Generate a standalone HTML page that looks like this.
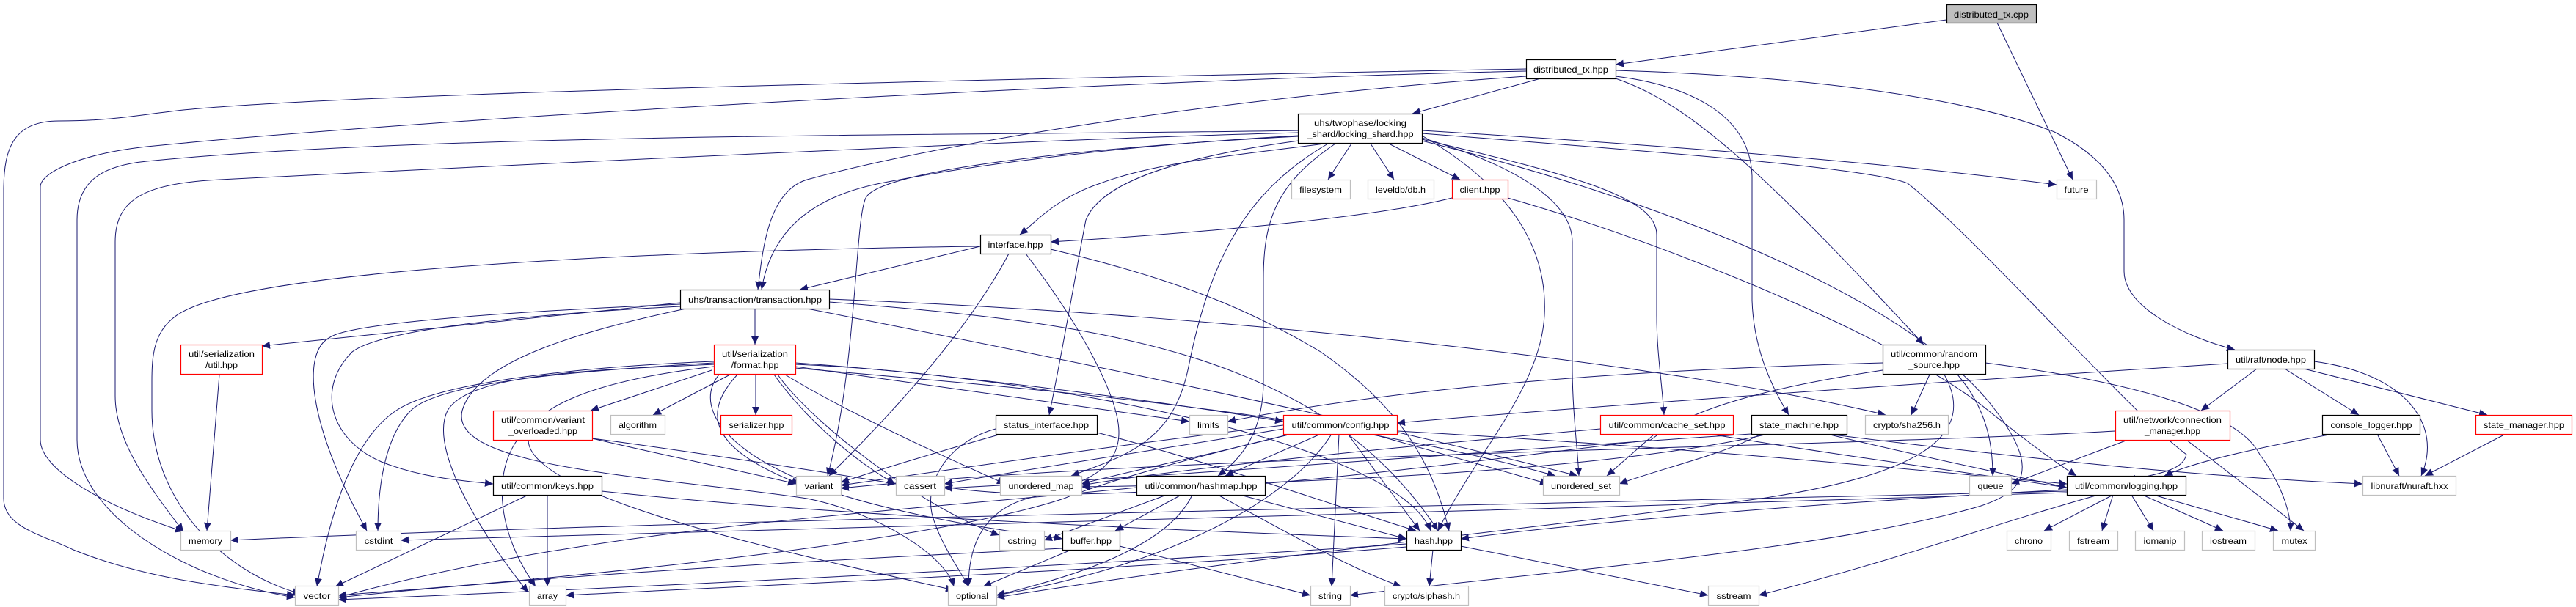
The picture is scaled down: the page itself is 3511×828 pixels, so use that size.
<!DOCTYPE html>
<html><head><meta charset="utf-8"><style>
html,body{margin:0;padding:0;background:#fff;}
svg{display:block;}
text{font-family:"Liberation Sans",sans-serif;font-size:12px;fill:#000;}
</style></head><body>
<svg width="3511" height="828" viewBox="0 0 3511 828" xmlns="http://www.w3.org/2000/svg">
<defs><marker id="a" markerUnits="userSpaceOnUse" markerWidth="12" markerHeight="10" refX="11" refY="5" orient="auto"><path d="M0,0 L11,5 L0,10 Z" fill="#191970"/></marker></defs>
<g fill="none" stroke="#191970" stroke-width="1" marker-end="url(#a)">
<!-- distributed_tx.cpp -->
<path d="M2653,27 L2202,88"/>
<path d="M2722,31 L2825,245"/>
<!-- distributed_tx.hpp -->
<path d="M2100,107 L1925,155"/>
<path d="M2080,94 C1500,105 500,125 250,150 C180,158 150,165 80,165 C20,165 5,200 5,260 L5,680 C5,720 60,730 100,750 C200,790 300,800 402,812"/>
<path d="M2080,97 C1500,110 600,160 200,200 C110,210 55,235 55,255 L55,600 C55,640 140,690 250,725"/>
<path d="M2080,104 C1700,130 1300,190 1100,245 C1050,260 1040,330 1033,395"/>
<path d="M2202,107 C2300,140 2400,230 2622,470"/>
<path d="M2202,96 C2500,105 2700,140 2800,180 C2860,210 2895,250 2895,300 L2895,370 C2895,420 2980,460 3046,477"/>
<path d="M2202,104 C2290,115 2385,150 2388,240 L2388,410 C2390,470 2410,520 2438,566"/>
<!-- locking_shard -->
<path d="M1842,196 L1810,245"/>
<path d="M1868,196 L1900,245"/>
<path d="M1893,196 L1990,245"/>
<path d="M1805,196 C1700,210 1580,220 1500,250 C1440,270 1415,300 1390,320"/>
<path d="M1770,185 C1500,200 1300,230 1200,250 C1100,270 1050,320 1038,395"/>
<path d="M1770,192 C1600,215 1500,250 1480,300 C1470,350 1450,470 1430,566"/>
<path d="M1770,178 C1400,185 600,180 200,220 C150,225 105,240 105,300 L105,600 C105,700 250,790 402,815"/>
<path d="M1770,181 C1400,190 600,230 300,245 C200,250 157,270 157,330 L157,540 C157,600 200,660 250,725"/>
<path d="M1770,186 C1500,200 1200,230 1180,270 C1165,300 1168,500 1128,649"/>
<path d="M1810,196 C1700,260 1650,350 1620,500 C1600,600 1540,620 1460,649"/>
<path d="M1820,196 C1740,250 1722,300 1722,380 L1722,520 C1722,580 1700,620 1660,649"/>
<path d="M1938,185 C2050,250 2110,330 2105,430 C2100,530 2010,620 1960,724"/>
<path d="M1938,188 C2080,230 2143,280 2143,330 L2143,500 C2143,560 2150,610 2152,649"/>
<path d="M1938,190 C2150,240 2258,270 2258,320 L2258,430 C2258,480 2265,520 2268,566"/>
<path d="M1938,178 C2300,200 2600,225 2803,252"/>
<path d="M1938,182 C2300,210 2550,230 2600,250 C2700,330 2900,560 2980,620 C2975,640 2950,645 2900,655"/>
<path d="M1938,192 C2250,270 2600,400 2720,560 C2780,640 2760,670 2700,690 C2500,750 2100,780 1840,812"/>
<!-- client -->
<path d="M1979,270 C1860,300 1600,320 1432,330"/>
<path d="M2055,270 C2300,340 2600,470 2710,560 C2760,600 2800,630 2830,649"/>
<!-- interface -->
<path d="M1336,336 L1090,395"/>
<path d="M1336,336 C1000,340 400,360 260,420 C210,440 207,480 207,520 L207,560 C207,680 300,780 410,810"/>
<path d="M1375,346 C1320,450 1220,560 1130,649"/>
<path d="M1398,346 C1470,440 1525,540 1525,590 C1525,640 1480,660 1400,680 C1330,700 1320,760 1320,800"/>
<path d="M1432,340 C1600,380 1700,420 1800,480 C1900,550 1950,620 1975,724"/>
<!-- transaction -->
<path d="M1029,421 L1029,470"/>
<path d="M927,413 L357,472"/>
<path d="M927,415 C700,425 480,440 450,460 C410,480 420,580 500,724"/>
<path d="M927,418 C700,430 520,450 480,480 C430,530 450,600 520,630 C570,650 620,655 672,660"/>
<path d="M935,421 C800,450 650,490 630,560 C610,640 900,650 1100,680 C1200,700 1290,760 1300,800"/>
<path d="M1100,421 C1400,480 1800,560 2150,649"/>
<path d="M1130,412 C1500,440 1800,480 1960,724"/>
<path d="M1130,408 C1700,430 2300,500 2570,566"/>
<!-- format -->
<path d="M970,505 L805,560"/>
<path d="M995,511 L890,566"/>
<path d="M1030,511 L1030,566"/>
<path d="M1005,511 C960,560 960,610 1090,660"/>
<path d="M973,493 C800,500 600,520 540,560 C480,600 450,700 432,800"/>
<path d="M973,495 C800,505 600,520 560,560 C520,600 515,680 515,724"/>
<path d="M973,497 C800,505 640,510 610,560 C580,620 680,760 720,808"/>
<path d="M1055,511 C1090,560 1150,620 1220,660"/>
<path d="M1070,511 C1150,560 1280,620 1370,660"/>
<path d="M1084,500 L1621,575"/>
<path d="M1084,495 C1300,510 1600,550 1749,575"/>
<path d="M1084,497 C1400,510 1900,600 1950,724"/>
<path d="M1084,502 C1400,530 1800,560 2120,649"/>
<path d="M973,500 C800,520 720,560 720,600 C720,680 1100,760 1300,805"/>
<path d="M1060,511 C1100,570 1250,690 1362,730"/>
<path d="M980,511 C940,560 1000,640 1200,690 C1320,720 1420,730 1448,735"/>
<!-- util.hpp -->
<path d="M299,511 L282,724"/>
<!-- variant_overloaded -->
<path d="M705,600 C670,650 680,730 730,800"/>
<path d="M807,598 C900,620 1000,640 1085,660"/>
<path d="M807,598 C900,610 1100,640 1221,660"/>
<!-- keys -->
<path d="M720,675 L457,800"/>
<path d="M746,675 L746,800"/>
<path d="M820,670 C1100,700 1500,720 1917,735"/>
<!-- status_interface -->
<path d="M1357,585 C1300,600 1260,650 1270,700 C1280,740 1310,780 1320,800"/>
<path d="M1365,592 C1300,610 1200,640 1146,658"/>
<path d="M1495,590 C1650,630 1850,700 1930,724"/>
<!-- config -->
<path d="M1749,580 C1500,610 1300,640 1146,662"/>
<path d="M1749,585 C1600,610 1400,640 1287,660"/>
<path d="M1760,592 C1650,620 1550,640 1474,660"/>
<path d="M1800,592 L1670,649"/>
<path d="M1760,592 C1600,630 1500,660 1450,680 C1300,730 900,780 461,812"/>
<path d="M1815,592 C1760,680 1600,770 1358,812"/>
<path d="M1825,592 L1815,800"/>
<path d="M1837,592 L1935,724"/>
<path d="M1870,592 L2110,660"/>
<path d="M1904,588 C2300,610 2600,640 2817,660"/>
<!-- hashmap -->
<path d="M1610,675 L1520,724"/>
<path d="M1590,675 L1423,737"/>
<path d="M1625,675 C1590,750 1450,790 1358,812"/>
<path d="M1690,675 L1917,735"/>
<path d="M1660,675 C1760,730 1850,780 1910,800"/>
<path d="M1549,665 C1200,700 800,720 461,815"/>
<!-- buffer -->
<path d="M1460,750 L1340,800"/>
<path d="M1526,745 L1786,812"/>
<path d="M1448,748 C1000,770 700,790 461,815"/>
<!-- hash -->
<path d="M1917,742 C1500,770 900,800 461,818"/>
<path d="M1953,750 L1948,800"/>
<path d="M1991,745 L2328,812"/>
<path d="M1917,746 C1500,780 1000,800 771,812"/>
<!-- cache_set -->
<path d="M2255,592 L2190,649"/>
<path d="M2181,585 C1900,610 1600,640 1474,662"/>
<path d="M2330,592 C2500,620 2650,640 2817,665"/>
<!-- random_source -->
<path d="M2566,495 C2200,505 1900,530 1673,575"/>
<path d="M2630,511 L2605,566"/>
<path d="M2668,511 C2710,560 2716,610 2716,649"/>
<path d="M2706,495 C2900,520 3050,560 3080,620 C3110,660 3122,700 3122,724"/>
<path d="M2650,511 C2700,600 2600,650 2400,680 C2100,720 1700,760 1358,815"/>
<path d="M2566,505 C2400,530 2300,560 2250,600 C2000,630 1500,700 1287,664"/>
<!-- node -->
<path d="M3036,496 C2500,530 2100,560 1904,577"/>
<path d="M3076,503 L3000,560"/>
<path d="M3114,503 L3215,566"/>
<path d="M3140,503 L3390,566"/>
<path d="M3154,493 C3280,510 3330,580 3300,649"/>
<!-- state_machine -->
<path d="M2490,592 C2800,630 3000,650 3220,660"/>
<path d="M2490,592 C2650,630 2750,650 2817,665"/>
<path d="M2410,592 C2200,640 1800,660 1474,664"/>
<path d="M2400,592 C2350,620 2260,640 2207,660"/>
<path d="M2387,592 C2100,610 1600,650 1287,666"/>
<!-- connection_manager -->
<path d="M2900,600 L2741,660"/>
<path d="M2980,600 L3140,724"/>
<path d="M2883,588 C2500,610 1600,620 1146,666"/>
<!-- console_logger -->
<path d="M3180,592 C3080,610 2990,630 2950,649"/>
<path d="M3240,592 L3270,649"/>
<!-- state_manager -->
<path d="M3415,592 L3305,649"/>
<!-- logging -->
<path d="M2880,675 L2786,724"/>
<path d="M2880,675 L2865,724"/>
<path d="M2905,675 L2935,724"/>
<path d="M2920,675 L3030,724"/>
<path d="M2935,675 L3105,724"/>
<path d="M2817,670 C2000,690 900,710 314,737"/>
<path d="M2817,672 C2000,700 1000,720 546,737"/>
<path d="M2860,675 C2700,720 2600,760 2397,812"/>
<path d="M2817,668 C2400,690 2100,720 1991,735"/>
</g>
<g stroke-width="1.2">
<!-- node boxes -->
<rect x="2653.5" y="6.5" width="122" height="25" fill="#bfbfbf" stroke="#000"/>
<text x="2714" y="24" text-anchor="middle" textLength="102" lengthAdjust="spacingAndGlyphs">distributed_tx.cpp</text>
<rect x="2080.5" y="81.5" width="122" height="26" fill="#fff" stroke="#000"/>
<text x="2141" y="99" text-anchor="middle" textLength="102" lengthAdjust="spacingAndGlyphs">distributed_tx.hpp</text>
<rect x="1769.5" y="155.5" width="169" height="40" fill="#fff" stroke="#000"/>
<text x="1854" y="172" text-anchor="middle" textLength="126" lengthAdjust="spacingAndGlyphs">uhs/twophase/locking</text>
<text x="1854" y="187" text-anchor="middle" textLength="145" lengthAdjust="spacingAndGlyphs">_shard/locking_shard.hpp</text>
<rect x="1760.5" y="245.5" width="80" height="26" fill="#fff" stroke="#bfbfbf"/>
<text x="1800" y="263" text-anchor="middle" textLength="58" lengthAdjust="spacingAndGlyphs">filesystem</text>
<rect x="1864.5" y="245.5" width="90" height="26" fill="#fff" stroke="#bfbfbf"/>
<text x="1909" y="263" text-anchor="middle" textLength="68" lengthAdjust="spacingAndGlyphs">leveldb/db.h</text>
<rect x="1979.5" y="245.5" width="76" height="26" fill="#fff" stroke="#f00"/>
<text x="2017" y="263" text-anchor="middle" textLength="55" lengthAdjust="spacingAndGlyphs">client.hpp</text>
<rect x="2803.5" y="245.5" width="54" height="26" fill="#fff" stroke="#bfbfbf"/>
<text x="2830" y="263" text-anchor="middle" textLength="33" lengthAdjust="spacingAndGlyphs">future</text>
<rect x="1336.5" y="320.5" width="96" height="26" fill="#fff" stroke="#000"/>
<text x="1384" y="338" text-anchor="middle" textLength="75" lengthAdjust="spacingAndGlyphs">interface.hpp</text>
<rect x="927.5" y="395.5" width="203" height="26" fill="#fff" stroke="#000"/>
<text x="1029" y="413" text-anchor="middle" textLength="182" lengthAdjust="spacingAndGlyphs">uhs/transaction/transaction.hpp</text>
<rect x="246.5" y="470.5" width="111" height="40" fill="#fff" stroke="#f00"/>
<text x="302" y="487" text-anchor="middle" textLength="90" lengthAdjust="spacingAndGlyphs">util/serialization</text>
<text x="302" y="502" text-anchor="middle" textLength="44" lengthAdjust="spacingAndGlyphs">/util.hpp</text>
<rect x="973.5" y="470.5" width="111" height="40" fill="#fff" stroke="#f00"/>
<text x="1029" y="487" text-anchor="middle" textLength="90" lengthAdjust="spacingAndGlyphs">util/serialization</text>
<text x="1029" y="502" text-anchor="middle" textLength="65" lengthAdjust="spacingAndGlyphs">/format.hpp</text>
<rect x="2566.5" y="470.5" width="140" height="40" fill="#fff" stroke="#000"/>
<text x="2636" y="487" text-anchor="middle" textLength="118" lengthAdjust="spacingAndGlyphs">util/common/random</text>
<text x="2636" y="502" text-anchor="middle" textLength="70" lengthAdjust="spacingAndGlyphs">_source.hpp</text>
<rect x="3036.5" y="477.5" width="118" height="26" fill="#fff" stroke="#000"/>
<text x="3095" y="495" text-anchor="middle" textLength="96" lengthAdjust="spacingAndGlyphs">util/raft/node.hpp</text>
<rect x="672.5" y="560.5" width="135" height="40" fill="#fff" stroke="#f00"/>
<text x="740" y="577" text-anchor="middle" textLength="114" lengthAdjust="spacingAndGlyphs">util/common/variant</text>
<text x="740" y="592" text-anchor="middle" textLength="94" lengthAdjust="spacingAndGlyphs">_overloaded.hpp</text>
<rect x="832.5" y="566.5" width="74" height="26" fill="#fff" stroke="#bfbfbf"/>
<text x="869" y="584" text-anchor="middle" textLength="52" lengthAdjust="spacingAndGlyphs">algorithm</text>
<rect x="982.5" y="566.5" width="97" height="26" fill="#fff" stroke="#f00"/>
<text x="1031" y="584" text-anchor="middle" textLength="75" lengthAdjust="spacingAndGlyphs">serializer.hpp</text>
<rect x="1357.5" y="566.5" width="138" height="26" fill="#fff" stroke="#000"/>
<text x="1426" y="584" text-anchor="middle" textLength="116" lengthAdjust="spacingAndGlyphs">status_interface.hpp</text>
<rect x="1621.5" y="566.5" width="52" height="26" fill="#fff" stroke="#bfbfbf"/>
<text x="1647" y="584" text-anchor="middle" textLength="30" lengthAdjust="spacingAndGlyphs">limits</text>
<rect x="1749.5" y="566.5" width="155" height="26" fill="#fff" stroke="#f00"/>
<text x="1827" y="584" text-anchor="middle" textLength="133" lengthAdjust="spacingAndGlyphs">util/common/config.hpp</text>
<rect x="2181.5" y="566.5" width="181" height="26" fill="#fff" stroke="#f00"/>
<text x="2272" y="584" text-anchor="middle" textLength="159" lengthAdjust="spacingAndGlyphs">util/common/cache_set.hpp</text>
<rect x="2387.5" y="566.5" width="130" height="26" fill="#fff" stroke="#000"/>
<text x="2452" y="584" text-anchor="middle" textLength="108" lengthAdjust="spacingAndGlyphs">state_machine.hpp</text>
<rect x="2542.5" y="566.5" width="113" height="26" fill="#fff" stroke="#bfbfbf"/>
<text x="2599" y="584" text-anchor="middle" textLength="92" lengthAdjust="spacingAndGlyphs">crypto/sha256.h</text>
<rect x="2883.5" y="560.5" width="156" height="40" fill="#fff" stroke="#f00"/>
<text x="2961" y="577" text-anchor="middle" textLength="134" lengthAdjust="spacingAndGlyphs">util/network/connection</text>
<text x="2961" y="592" text-anchor="middle" textLength="76" lengthAdjust="spacingAndGlyphs">_manager.hpp</text>
<rect x="3165.5" y="566.5" width="133" height="26" fill="#fff" stroke="#000"/>
<text x="3232" y="584" text-anchor="middle" textLength="111" lengthAdjust="spacingAndGlyphs">console_logger.hpp</text>
<rect x="3374.5" y="566.5" width="131" height="26" fill="#fff" stroke="#f00"/>
<text x="3440" y="584" text-anchor="middle" textLength="110" lengthAdjust="spacingAndGlyphs">state_manager.hpp</text>
<rect x="672.5" y="649.5" width="148" height="26" fill="#fff" stroke="#000"/>
<text x="746" y="667" text-anchor="middle" textLength="126" lengthAdjust="spacingAndGlyphs">util/common/keys.hpp</text>
<rect x="1085.5" y="649.5" width="61" height="26" fill="#fff" stroke="#bfbfbf"/>
<text x="1116" y="667" text-anchor="middle" textLength="39" lengthAdjust="spacingAndGlyphs">variant</text>
<rect x="1221.5" y="649.5" width="66" height="26" fill="#fff" stroke="#bfbfbf"/>
<text x="1254" y="667" text-anchor="middle" textLength="44" lengthAdjust="spacingAndGlyphs">cassert</text>
<rect x="1363.5" y="649.5" width="111" height="26" fill="#fff" stroke="#bfbfbf"/>
<text x="1419" y="667" text-anchor="middle" textLength="89" lengthAdjust="spacingAndGlyphs">unordered_map</text>
<rect x="1549.5" y="649.5" width="175" height="26" fill="#fff" stroke="#000"/>
<text x="1637" y="667" text-anchor="middle" textLength="153" lengthAdjust="spacingAndGlyphs">util/common/hashmap.hpp</text>
<rect x="2103.5" y="649.5" width="104" height="26" fill="#fff" stroke="#bfbfbf"/>
<text x="2155" y="667" text-anchor="middle" textLength="82" lengthAdjust="spacingAndGlyphs">unordered_set</text>
<rect x="2684.5" y="649.5" width="57" height="26" fill="#fff" stroke="#bfbfbf"/>
<text x="2713" y="667" text-anchor="middle" textLength="35" lengthAdjust="spacingAndGlyphs">queue</text>
<rect x="2817.5" y="649.5" width="162" height="26" fill="#fff" stroke="#000"/>
<text x="2898" y="667" text-anchor="middle" textLength="140" lengthAdjust="spacingAndGlyphs">util/common/logging.hpp</text>
<rect x="3220.5" y="649.5" width="127" height="26" fill="#fff" stroke="#bfbfbf"/>
<text x="3284" y="667" text-anchor="middle" textLength="105" lengthAdjust="spacingAndGlyphs">libnuraft/nuraft.hxx</text>
<rect x="246.5" y="724.5" width="68" height="26" fill="#fff" stroke="#bfbfbf"/>
<text x="280" y="742" text-anchor="middle" textLength="46" lengthAdjust="spacingAndGlyphs">memory</text>
<rect x="485.5" y="724.5" width="61" height="26" fill="#fff" stroke="#bfbfbf"/>
<text x="516" y="742" text-anchor="middle" textLength="39" lengthAdjust="spacingAndGlyphs">cstdint</text>
<rect x="1362.5" y="724.5" width="61" height="26" fill="#fff" stroke="#bfbfbf"/>
<text x="1393" y="742" text-anchor="middle" textLength="39" lengthAdjust="spacingAndGlyphs">cstring</text>
<rect x="1448.5" y="724.5" width="78" height="26" fill="#fff" stroke="#000"/>
<text x="1487" y="742" text-anchor="middle" textLength="56" lengthAdjust="spacingAndGlyphs">buffer.hpp</text>
<rect x="1917.5" y="724.5" width="74" height="26" fill="#fff" stroke="#000"/>
<text x="1954" y="742" text-anchor="middle" textLength="52" lengthAdjust="spacingAndGlyphs">hash.hpp</text>
<rect x="2735.5" y="724.5" width="60" height="26" fill="#fff" stroke="#bfbfbf"/>
<text x="2765" y="742" text-anchor="middle" textLength="38" lengthAdjust="spacingAndGlyphs">chrono</text>
<rect x="2820.5" y="724.5" width="66" height="26" fill="#fff" stroke="#bfbfbf"/>
<text x="2853" y="742" text-anchor="middle" textLength="44" lengthAdjust="spacingAndGlyphs">fstream</text>
<rect x="2910.5" y="724.5" width="67" height="26" fill="#fff" stroke="#bfbfbf"/>
<text x="2944" y="742" text-anchor="middle" textLength="45" lengthAdjust="spacingAndGlyphs">iomanip</text>
<rect x="3001.5" y="724.5" width="72" height="26" fill="#fff" stroke="#bfbfbf"/>
<text x="3037" y="742" text-anchor="middle" textLength="50" lengthAdjust="spacingAndGlyphs">iostream</text>
<rect x="3098.5" y="724.5" width="57" height="26" fill="#fff" stroke="#bfbfbf"/>
<text x="3127" y="742" text-anchor="middle" textLength="35" lengthAdjust="spacingAndGlyphs">mutex</text>
<rect x="402.5" y="799.5" width="59" height="26" fill="#fff" stroke="#bfbfbf"/>
<text x="432" y="817" text-anchor="middle" textLength="37" lengthAdjust="spacingAndGlyphs">vector</text>
<rect x="721.5" y="799.5" width="50" height="26" fill="#fff" stroke="#bfbfbf"/>
<text x="746" y="817" text-anchor="middle" textLength="28" lengthAdjust="spacingAndGlyphs">array</text>
<rect x="1292.5" y="799.5" width="66" height="26" fill="#fff" stroke="#bfbfbf"/>
<text x="1325" y="817" text-anchor="middle" textLength="44" lengthAdjust="spacingAndGlyphs">optional</text>
<rect x="1786.5" y="799.5" width="54" height="26" fill="#fff" stroke="#bfbfbf"/>
<text x="1813" y="817" text-anchor="middle" textLength="32" lengthAdjust="spacingAndGlyphs">string</text>
<rect x="1887.5" y="799.5" width="114" height="26" fill="#fff" stroke="#bfbfbf"/>
<text x="1944" y="817" text-anchor="middle" textLength="92" lengthAdjust="spacingAndGlyphs">crypto/siphash.h</text>
<rect x="2328.5" y="799.5" width="69" height="26" fill="#fff" stroke="#bfbfbf"/>
<text x="2363" y="817" text-anchor="middle" textLength="47" lengthAdjust="spacingAndGlyphs">sstream</text>
</g>
</svg>
</body></html>
